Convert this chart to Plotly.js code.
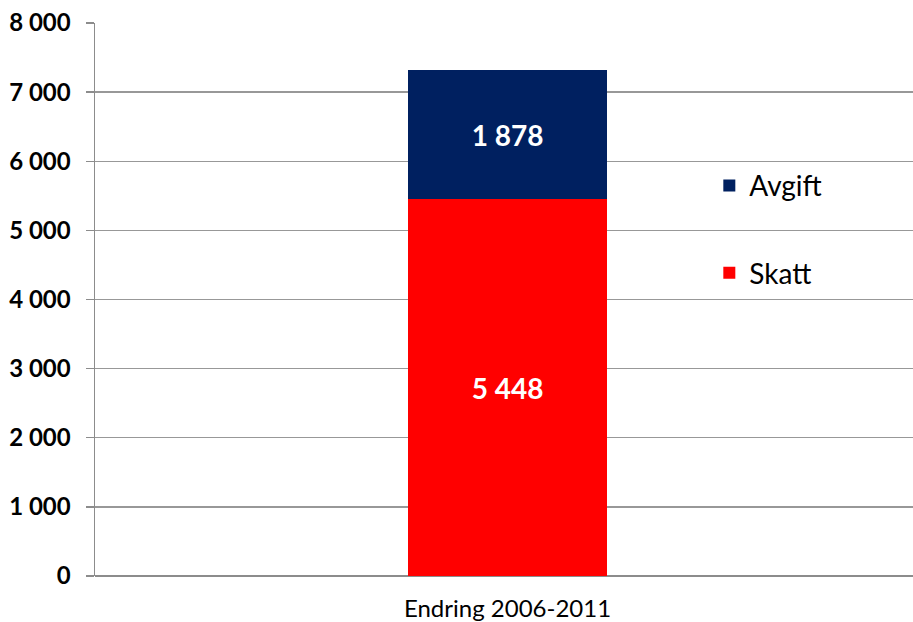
<!DOCTYPE html>
<html>
<head>
<meta charset="utf-8">
<script src="https://cdn.plot.ly/plotly-3.0.1.min.js"></script>
<style>html,body{margin:0;padding:0;background:#fff;}#chart{width:913px;height:622px;}</style>
</head>
<body>
<div id="chart"></div>
<script>
const categories = ["Endring 2006-2011"];
const skatt = [5448];
const avgift = [1878];
const seriesNames = ["Skatt", "Avgift"];
const yTicks = [0, 1000, 2000, 3000, 4000, 5000, 6000, 7000, 8000];

const FONT = "Lato, 'Open Sans', sans-serif";

const traces = [
  {type: "bar", name: seriesNames[0], x: categories, y: skatt, marker: {color: "#FF0000"},
   width: 0.241, legendgroup: "s", legendrank: 2,
   texttemplate: "%{y:,d}", textposition: "inside", insidetextanchor: "middle",
   textfont: {family: FONT, size: 28, color: "#ffffff", weight: "bold"}, hoverinfo: "none"},
  {type: "bar", name: seriesNames[1], x: categories, y: avgift, marker: {color: "#002060"},
   width: 0.241, legendgroup: "a", legendrank: 1,
   texttemplate: "%{y:,d}", textposition: "inside", insidetextanchor: "middle",
   textfont: {family: FONT, size: 28, color: "#ffffff", weight: "bold"}, hoverinfo: "none"}
];

const layout = {
  width: 913, height: 622,
  margin: {l: 95, r: 0, t: 23, b: 46},
  barmode: "stack",
  separators: ", ",
  paper_bgcolor: "#ffffff", plot_bgcolor: "#ffffff",
  font: {family: FONT, color: "#000000"},
  showlegend: true,
  legend: {x: 0.751, y: 0.751, xanchor: "left", yanchor: "top",
           traceorder: "grouped", tracegroupgap: 48,
           font: {family: FONT, size: 28, color: "#000000"}, bgcolor: "rgba(0,0,0,0)"},
  xaxis: {type: "category", range: [-0.5, 0.4915], showgrid: false,
          showline: false, ticks: "", ticklabelstandoff: 16,
          tickfont: {family: FONT, size: 24, color: "#000000"},
          zeroline: false},
  yaxis: {range: [0, 8000], tickvals: yTicks, tickformat: ",d",
          showgrid: true, gridcolor: "#989898", gridwidth: 1.3,
          showline: true, linecolor: "#8c8c8c", linewidth: 1.5,
          ticks: "outside", ticklen: 8, tickcolor: "#8c8c8c", tickwidth: 1.3,
          ticklabelstandoff: 10,
          tickfont: {family: FONT, size: 24, color: "#000000", weight: "bold"},
          zeroline: true, zerolinecolor: "#8c8c8c", zerolinewidth: 1.5}
};

Plotly.newPlot("chart", traces, layout, {displayModeBar: false, staticPlot: true});
</script>
</body>
</html>
